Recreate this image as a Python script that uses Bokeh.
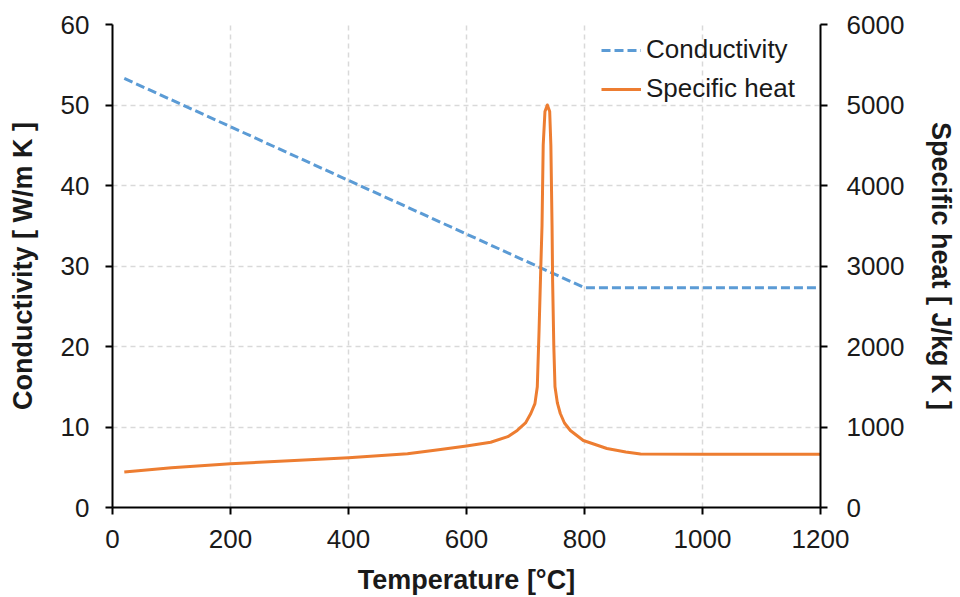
from bokeh.plotting import figure
from bokeh.models import Range1d, LinearAxis, Legend, LegendItem, FixedTicker
from bokeh.embed import file_html
from bokeh.resources import INLINE

# Conductivity [W/m K] vs temperature [°C]
k_temp = [20, 800, 1200]
k_vals = [53.3, 27.3, 27.3]

# Specific heat [J/kg K] vs temperature [°C]
cp_temp = [20, 100, 200, 300, 400, 500, 556, 600, 641, 670, 686, 700, 709, 716,
           720, 723, 726, 728, 730, 733, 737, 741, 743, 745, 746, 748, 750, 754,
           759, 766, 776, 798, 838, 870, 895, 1000, 1100, 1200]
cp_vals = [440, 495, 543, 580, 617, 667, 720, 765, 811, 880, 957, 1050, 1168, 1290,
           1500, 2200, 3000, 3500, 4500, 4920, 5000, 4920, 4500, 3500, 2800, 2000, 1500, 1300,
           1168, 1050, 957, 832, 733, 690, 665, 660, 660, 660]

x_ticks = [0, 200, 400, 600, 800, 1000, 1200]
k_ticks = [0, 10, 20, 30, 40, 50, 60]
cp_ticks = [0, 1000, 2000, 3000, 4000, 5000, 6000]

FONT = "Liberation Sans"
TXT = "#1a1a1a"
BLUE = "#5B9BD5"
ORANGE = "#ED7D31"

p = figure(width=960, height=597, output_backend="svg", toolbar_location=None,
           x_range=Range1d(0, 1200), y_range=Range1d(0, 60),
           min_border_left=112, min_border_right=140, min_border_top=24, min_border_bottom=90)
p.extra_y_ranges = {"cp": Range1d(0, 6000)}
p.outline_line_color = None
p.background_fill_color = "white"

l1 = p.line(k_temp, k_vals, line_color=BLUE, line_width=3, line_dash="9 4")
l2 = p.line(cp_temp, cp_vals, line_color=ORANGE, line_width=3, y_range_name="cp",
            line_join="round")

rax = LinearAxis(y_range_name="cp")
p.add_layout(rax, "right")

p.xaxis.ticker = FixedTicker(ticks=x_ticks)
p.yaxis[0].ticker = FixedTicker(ticks=k_ticks)
rax.ticker = FixedTicker(ticks=cp_ticks)

p.xaxis.axis_label = "Temperature [°C]"
p.yaxis[0].axis_label = "Conductivity [ W/m K ]"
rax.axis_label = "Specific heat [ J/kg K ]"

for ax in [p.xaxis[0], p.yaxis[0], rax]:
    ax.axis_line_color = "#000000"
    ax.axis_line_width = 2
    ax.major_tick_line_color = "#000000"
    ax.major_tick_line_width = 2
    ax.major_tick_out = 7
    ax.major_tick_in = 0
    ax.minor_tick_line_color = None
    ax.major_label_text_font = FONT
    ax.major_label_text_font_size = "26px"
    ax.major_label_text_color = TXT
    ax.axis_label_text_font = FONT
    ax.axis_label_text_font_size = "27px"
    ax.axis_label_text_font_style = "bold"
    ax.axis_label_text_color = TXT

p.xaxis.major_label_standoff = 15
p.xaxis.axis_label_standoff = 14
p.yaxis[0].major_label_standoff = 16
p.yaxis[0].axis_label_standoff = 20
rax.major_label_standoff = 19
rax.axis_label_standoff = 19

p.xgrid.ticker = FixedTicker(ticks=x_ticks)
p.ygrid.ticker = FixedTicker(ticks=k_ticks)
for g in [p.xgrid[0], p.ygrid[0]]:
    g.grid_line_color = "#d9d9d9"
    g.grid_line_width = 1.5
    g.grid_line_dash = "5 4"

legend = Legend(items=[LegendItem(label="Conductivity", renderers=[l1]),
                       LegendItem(label="Specific heat", renderers=[l2])],
                location=(489, 403))
legend.border_line_color = None
legend.background_fill_alpha = 0
legend.padding = 0
legend.margin = 0
legend.glyph_width = 40
legend.glyph_height = 28
legend.label_height = 28
legend.spacing = 8
legend.label_standoff = 5
legend.label_text_font = FONT
legend.label_text_font_size = "26px"
legend.label_text_color = TXT
p.add_layout(legend)

open("out.html", "w").write(file_html(p, INLINE))
